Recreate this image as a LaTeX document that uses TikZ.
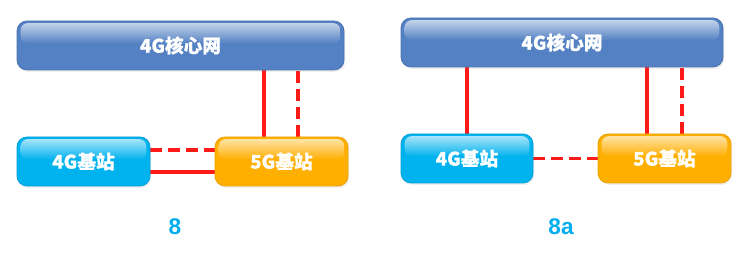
\documentclass[tikz,border=0pt]{standalone}
\usepackage{fontspec}
\setmainfont{Liberation Sans}
\newfontfamily\cjk{Noto Sans CJK SC}[BoldFeatures={FakeBold=0.8}]
\usetikzlibrary{calc,shadows,backgrounds}
\definecolor{corecol}{HTML}{5381C3}
\definecolor{lteblue}{HTML}{00B2EE}
\definecolor{nrorange}{HTML}{FFAF00}
\definecolor{linkred}{HTML}{FF1A1A}
\definecolor{capblue}{HTML}{00AEEF}
\tikzset{
  netbox/.style={rounded corners=7.5pt, minimum height=49*0.75pt, inner sep=0,
    drop shadow={opacity=0.12, shadow xshift=1pt, shadow yshift=-1.5pt}},
  corebox/.style={netbox, fill=corecol, draw=corecol!90!black, line width=0.6pt},
  ltebox/.style={netbox, fill=lteblue, draw=lteblue!90!black, line width=0.6pt, minimum width=133*0.75pt},
  nrbox/.style={netbox, fill=nrorange, draw=nrorange!92!black, line width=0.6pt, minimum width=133*0.75pt},
  boxtext/.style={text=white, font=\cjk\bfseries\fontsize{14}{16}\selectfont},
  link/.style={draw=linkred, line width=2.3pt},
  dlink/.style={link, dash pattern=on 8.5pt off 5pt},
  caption/.style={text=capblue, font=\bfseries\fontsize{17}{19}\selectfont}
}
% glossy highlight across the upper part of a box
\newcommand{\glossbar}[2]{%
  \shade[top color=#2!35!white, bottom color=#2, rounded corners=5.5pt]
    ($(#1.north west)+(4,2.5)$) rectangle ($(#1.east)+(-4,-2)$);
}
\begin{document}
\begin{tikzpicture}[x=0.75pt,y=-0.75pt]
\useasboundingbox (0,0) rectangle (747,256);

% ---- left panel ----
\node[corebox, minimum width=327*0.75pt] (coreL) at (180.5,45.5) {};
\node[ltebox] (g4L) at (83.5,161.5) {};
\node[nrbox] (g5L) at (281.5,161.5) {};
\glossbar{coreL}{corecol}
\glossbar{g4L}{lteblue}
\glossbar{g5L}{nrorange}
\node[boxtext] (tcoreL) at (coreL) {4G核心网};
\node[boxtext] (tg4L) at (g4L) {4G基站};
\node[boxtext] (tg5L) at (g5L) {5G基站};

% ---- right panel ----
\node[corebox, minimum width=322*0.75pt] (coreR) at (562,42.5) {};
\node[ltebox, minimum width=132*0.75pt] (g4R) at (467,158.5) {};
\node[nrbox] (g5R) at (664.5,158.5) {};
\glossbar{coreR}{corecol}
\glossbar{g4R}{lteblue}
\glossbar{g5R}{nrorange}
\node[boxtext] (tcoreR) at (coreR) {4G核心网};
\node[boxtext] (tg4R) at (g4R) {4G基站};
\node[boxtext] (tg5R) at (g5R) {5G基站};

% ---- captions ----
\node[caption] (capL) at (175,227) {8};
\node[caption] (capR) at (561,227) {8a};

% ---- links, behind the boxes ----
\begin{scope}[on background layer]
  % left panel
  \coordinate (s5L) at ($(g5L.north)+(-17.5,0)$);
  \coordinate (d5L) at ($(g5L.north)+(16.5,0)$);
  \draw[link]  (s5L) -- (s5L |- coreL.south);
  \draw[dlink] (d5L) -- (d5L |- coreL.south);
  \coordinate (hdL) at ($(g4L.east)+(0,-11.5)$);
  \coordinate (hsL) at ($(g4L.east)+(0,10.5)$);
  \draw[dlink] (hdL) -- (hdL -| g5L.west);
  \draw[link]  (hsL) -- (hsL -| g5L.west);
  % right panel
  \draw[link] (g4R.north) -- (g4R.north |- coreR.south);
  \coordinate (s5R) at ($(g5R.north)+(-17.5,0)$);
  \coordinate (d5R) at ($(g5R.north)+(17.5,0)$);
  \draw[link]  (s5R) -- (s5R |- coreR.south);
  \draw[dlink] (d5R) -- (d5R |- coreR.south);
  \draw[dlink] (g4R.east) -- (g5R.west);
\end{scope}
\end{tikzpicture}
\end{document}
